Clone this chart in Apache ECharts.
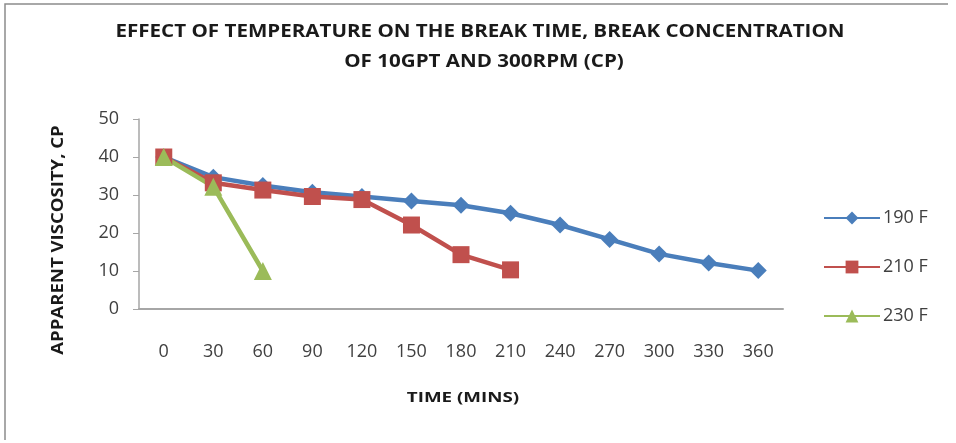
<!DOCTYPE html>
<html>
<head>
<meta charset="utf-8">
<script src="https://cdn.jsdelivr.net/npm/echarts@6/dist/echarts.min.js"></script>
<style>
  html, body { margin: 0; padding: 0; background: #fff; }
  #chart { width: 956px; height: 443px; }
</style>
</head>
<body>
<div id="chart"></div>
<script>
// Time points (minutes) along the x axis
const timeMins = ['0', '30', '60', '90', '120', '150', '180', '210', '240', '270', '300', '330', '360'];

// Apparent viscosity (cP) at each break temperature
const visc190F = [40, 34.7, 32.5, 30.7, 29.6, 28.4, 27.3, 25.2, 22.1, 18.3, 14.5, 12.1, 10.1];
const visc210F = [40, 33.2, 31.3, 29.6, 28.8, 22.1, 14.3, 10.3];
const visc230F = [40, 32.2, 10];

const seriesNames = ['190 F', '210 F', '230 F'];
const yTicks = { min: 0, max: 50, step: 10 };

const titleLines = [
  'EFFECT OF TEMPERATURE ON THE BREAK TIME, BREAK CONCENTRATION',
  'OF 10GPT AND 300RPM (CP)'
];
const xName = 'TIME (MINS)';
const yName = 'APPARENT VISCOSITY, CP';

const FONT = '"Open Sans", "Liberation Sans", sans-serif';
const TEXT = '#404040';
const DARK = '#1a1a1a';

const chart = echarts.init(document.getElementById('chart'), null, { renderer: 'canvas' });

function lineSeries(name, data, color, symbol, size) {
  return {
    name: name,
    type: 'line',
    data: data,
    symbol: symbol,
    symbolSize: size,
    lineStyle: { color: color, width: 4.5 },
    itemStyle: { color: color },
    emphasis: { disabled: true },
    animation: false
  };
}

// Wide, bold heading text (stretched along its reading direction)
function headingText(text, x, y, size, stretch, rotation) {
  return {
    type: 'text',
    x: x,
    y: y,
    rotation: rotation || 0,
    scaleX: stretch,
    style: {
      text: text,
      fontFamily: FONT,
      fontWeight: 'bold',
      fontSize: size,
      fill: DARK,
      align: 'center',
      verticalAlign: 'middle'
    }
  };
}

chart.setOption({
  backgroundColor: '#ffffff',
  animation: false,
  legend: {
    orient: 'vertical',
    left: 818,
    top: 204,
    itemWidth: 56,
    itemHeight: 16,
    itemGap: 31,
    data: seriesNames,
    textStyle: { fontFamily: FONT, fontSize: 18, color: TEXT, padding: [0, 0, 0, -2] }
  },
  grid: { left: 139, right: 173, top: 119, bottom: 134 },
  xAxis: {
    type: 'category',
    data: timeMins,
    boundaryGap: true,
    axisLine: { lineStyle: { color: '#a6a6a6', width: 2 } },
    axisTick: { show: false },
    axisLabel: { fontFamily: FONT, fontSize: 18, color: TEXT, margin: 34, interval: 0 },
    splitLine: { show: false }
  },
  yAxis: {
    type: 'value',
    min: yTicks.min,
    max: yTicks.max,
    interval: yTicks.step,
    axisLine: { show: true, lineStyle: { color: '#a6a6a6', width: 1.5 } },
    axisTick: { show: true, length: 6, lineStyle: { color: '#a6a6a6' } },
    axisLabel: { fontFamily: FONT, fontSize: 18, color: TEXT, margin: 20 },
    splitLine: { show: false }
  },
  graphic: [
    headingText(titleLines[0], 480, 32, 17, 1.21),
    headingText(titleLines[1], 484, 62, 17, 1.21),
    headingText(xName, 463, 398, 15, 1.25),
    headingText(yName, 58, 240, 16, 1.16, Math.PI / 2),
    {
      type: 'polyline',
      shape: { points: [[5, 440], [5, 4], [948, 4]] },
      style: { stroke: '#8c8c8c', lineWidth: 1.5, fill: null }
    }
  ],
  series: [
    lineSeries(seriesNames[0], visc190F, '#4a7ebb', 'diamond', 17),
    lineSeries(seriesNames[1], visc210F, '#c0504d', 'rect', 17),
    lineSeries(seriesNames[2], visc230F, '#9bbb59', 'triangle', 18)
  ]
});
</script>
</body>
</html>
